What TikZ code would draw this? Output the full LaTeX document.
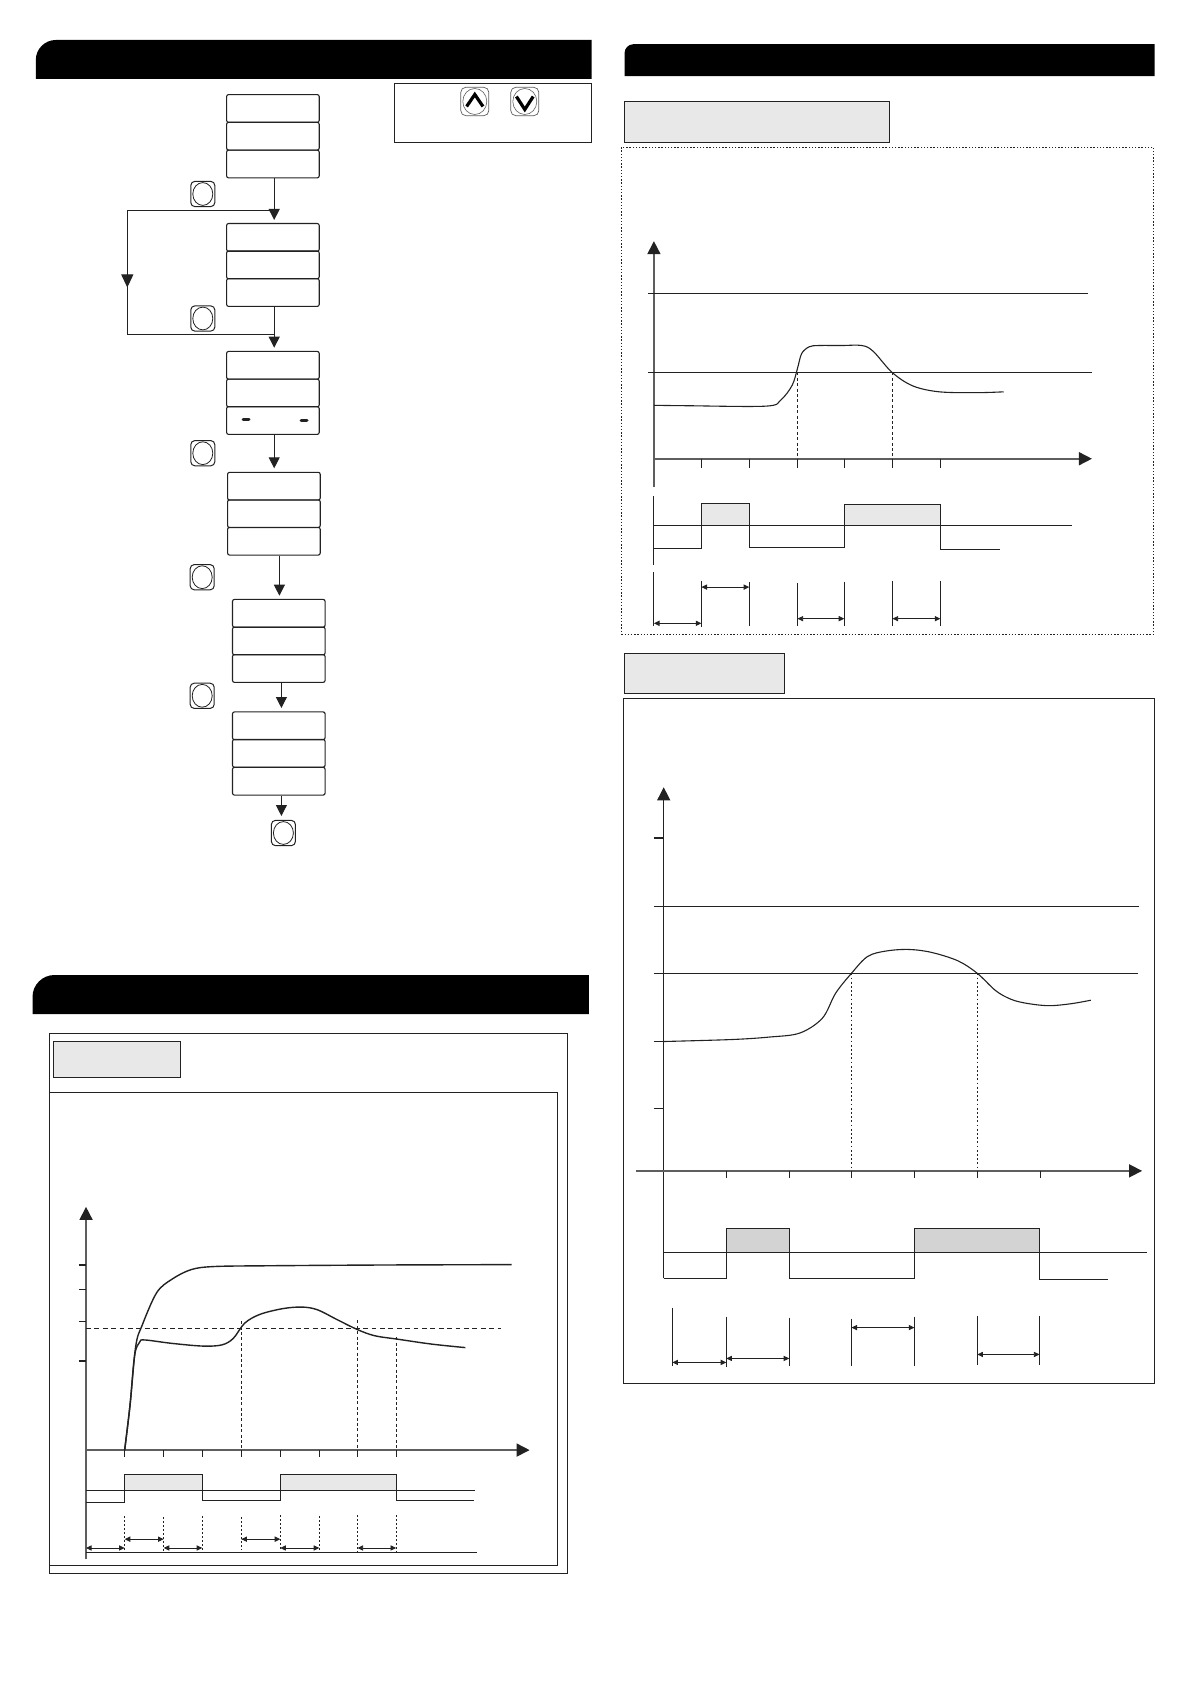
\documentclass[tikz,border=0pt]{standalone}
\usetikzlibrary{arrows.meta,shapes.geometric}
\definecolor{ink}{HTML}{222222}
\definecolor{panelgray}{HTML}{E8E8E8}
\definecolor{darkgray2}{HTML}{D3D3D3}
\definecolor{axisgray}{HTML}{5E5E5E}
\tikzset{
  thin line/.style={draw=ink,line width=.5pt},
  frame/.style={draw=ink,line width=.5pt},
  graylabel/.style={draw=ink,line width=.6pt,fill=panelgray},
  lcdbox/.style={draw=ink,line width=.55pt,rounded corners=1pt,minimum width=46.3pt,minimum height=13.9pt,inner sep=0pt},
  flow/.style={draw=ink,line width=.5pt,-{Triangle[length=5.5pt,width=5.5pt]}},
  btn/.style={draw=ink,line width=.5pt,rounded corners=2pt,minimum width=12pt,minimum height=12.6pt,inner sep=0pt},
  btneye/.style={draw=ink,line width=.4pt,ellipse,minimum width=10pt,minimum height=11.4pt,inner sep=0pt},
  updown/.style={draw=axisgray,line width=.35pt,rounded corners=2.5pt,minimum width=14pt,minimum height=14.2pt,inner sep=0pt},
  updowneye/.style={draw=axisgray,line width=.3pt,ellipse,minimum width=12pt,minimum height=13pt,inner sep=0pt},
  chevron/.style={draw=black,line width=1.6pt,line join=miter},
  axisline/.style={draw=axisgray,line width=.8pt},
  axistip/.style={-{Triangle[length=6.5pt,width=6.5pt,color=ink]}},
  tick/.style={draw=ink,line width=.55pt},
  curve/.style={draw=ink,line width=.55pt,smooth,tension=.55,line join=round},
  wave/.style={draw=ink,line width=.55pt},
  drop/.style={draw=ink,line width=.45pt,dash pattern=on 1.5pt off 1.2pt},
  droptall/.style={draw=ink,line width=.5pt},
  dim/.style={draw=ink,line width=.4pt,{Triangle[length=2.8pt,width=2.6pt]}-{Triangle[length=2.8pt,width=2.6pt]}},
}
\begin{document}
\begin{tikzpicture}[x=.5pt,y=-.5pt]
\useasboundingbox (0,0) rectangle (1191,1684);
\fill[white] (0,0) rectangle (1191,1684);

% ---------- header bars
\fill[black] (35.8,79) [rounded corners=10pt] -- (35.8,40) [sharp corners] -- (591.6,40) -- (591.6,79) -- cycle;
\fill[black] (32.5,1014) [rounded corners=11pt] -- (32.5,975) [sharp corners] -- (588.9,975) -- (588.9,1014) -- cycle;
\fill[black] (624.5,76.2) [rounded corners=4.5pt] -- (624.5,44.2) [sharp corners] -- (1154.6,44.2) -- (1154.6,76.2) -- cycle;

% ---------- key legend
\draw[frame] (394.2,83.3) rectangle (591.2,142.3);
\node[updown] (keyup) at (474.8,101.5) {};
\node[updowneye] (keyupeye) at (474.8,101.5) {};
\node[updown] (keydown) at (524.8,101.5) {};
\node[updowneye] (keydowneye) at (524.8,101.5) {};
\draw[chevron] (466.6,106.5) -- (474.8,94.5) -- (483,106.5);
\draw[chevron] (516.4,96.5) -- (524.8,109.5) -- (533.2,96.5);

% ---------- flow boxes
\node[lcdbox] (g1a) at (272.9,108.5) {};
\node[lcdbox] (g1b) at (272.9,136.2) {};
\node[lcdbox] (g1c) at (272.9,164) {};
\node[lcdbox] (g2a) at (272.9,237.4) {};
\node[lcdbox] (g2b) at (272.9,264.9) {};
\node[lcdbox] (g2c) at (272.9,292.5) {};
\node[lcdbox] (g3a) at (272.9,365.3) {};
\node[lcdbox] (g3b) at (272.9,393) {};
\node[lcdbox] (g3c) at (272.9,420.5) {};
\node[lcdbox] (g4a) at (273.9,486.2) {};
\node[lcdbox] (g4b) at (273.9,513.7) {};
\node[lcdbox] (g4c) at (273.9,541.2) {};
\node[lcdbox] (g5a) at (278.8,613.3) {};
\node[lcdbox] (g5b) at (278.8,641) {};
\node[lcdbox] (g5c) at (278.8,668.5) {};
\node[lcdbox] (g6a) at (278.8,725.8) {};
\node[lcdbox] (g6b) at (278.8,753.3) {};
\node[lcdbox] (g6c) at (278.8,781.2) {};
% dashes in g3c
\draw[ink,line width=1.5pt,line cap=round] (243,419.7) -- (249,419.7);
\draw[ink,line width=1.5pt,line cap=round] (301,421) -- (307,421);

% ---------- flow buttons
\foreach \n/\x/\y in {b1/202.8/194, b2/202.8/318.5, b3/202.8/453.2, b4/202.2/577.2, b5/202.2/695.8, b6/283.4/833}{
  \node[btn] (\n) at (\x,\y) {};
  \node[btneye] (\n eye) at (\x,\y) {};
}

% ---------- flow arrows
\coordinate (t1) at (274.2,220);
\coordinate (t2) at (274.2,347.7);
\coordinate (t3) at (274.2,468.3);
\coordinate (t4) at (279.4,595.7);
\coordinate (t5) at (281.4,708);
\coordinate (t6) at (281.4,816);
\draw[flow] (g1c.south -| t1) -- (t1);
\draw[flow] (g2c.south -| t2) -- (t2);
\draw[flow] (g3c.south -| t3) -- (t3);
\draw[flow] (g4c.south -| t4) -- (t4);
\draw[flow] (g5c.south -| t5) -- (t5);
\draw[flow] (g6c.south -| t6) -- (t6);
\coordinate (loopTR) at (274.2,210.3);
\coordinate (loopBR) at (274.2,335);
\coordinate (loopTL) at (127.3,210.3);
\coordinate (loopBL) at (127.3,335);
\coordinate (loopTip) at (127.3,287.5);
\draw[draw=ink,line width=.5pt] (loopTR) -- (loopTL) -- (loopBL) -- (loopBR);
\draw[flow,-{Triangle[length=6.5pt,width=6pt]}] (loopTL) -- (loopTip);

% ---------- PANEL A (lower left): crop coords
\begin{scope}[shift={(0,1000)},x=.1912pt,y=-.1912pt]
\draw[frame] (129,87) rectangle (1483,1501);
\draw[frame] (129,241) rectangle (1457,1480);
\draw[graylabel] (140,108) rectangle (471,203);
\fill[panelgray] (326,1240) rectangle (530,1282);
\fill[panelgray] (733,1240) rectangle (1036,1282);
\draw[axisline,axistip] (225,1462) -- (225,541);
\draw[axisline,axistip] (225,1177) -- (1385,1177);
\foreach \y in {693,756,840,944} \draw[tick] (206,\y) -- (225,\y);
\foreach \x in {326,428,530,631,733,835,935,1036} \draw[tick] (\x,1177) -- (\x,1196);
\draw[curve,line width=.7pt] plot coordinates {(326,1177) (340,1060) (355,905) (372,850) (410,765) (450,730) (500,705) (560,697) (700,695) (1000,693) (1338,692)};
\draw[curve,line width=.7pt] plot coordinates {(326,1177) (340,1060) (352,930) (365,895) (378,889) (450,898) (530,905) (580,902) (610,885) (640,845) (680,822) (740,807) (790,803) (830,810) (880,835) (935,862) (980,878) (1040,887) (1130,900) (1217,909)};
\draw[draw=ink,line width=.5pt,dash pattern=on 2.4pt off 1.8pt] (225,858) -- (1310,858);
\draw[drop] (631,840) -- (631,1177);
\draw[drop,line width=.8pt] (935,838) -- (935,1177);
\draw[drop] (1036,882) -- (1036,1177);
\draw[thin line] (225,1282) -- (1241,1282);
\draw[wave] (225,1313) -- (326,1313) -- (326,1240) -- (530,1240) -- (530,1310) -- (733,1310) -- (733,1240) -- (1036,1240) -- (1036,1310) -- (1240,1310);
\foreach \x/\a/\b in {326/1350/1440,428/1352/1440,529/1350/1438,631/1353/1438,733/1348/1440,835/1350/1440,935/1347/1442,1036/1347/1442}
  \draw[drop,dash pattern=on 1pt off 1pt] (\x,\a) -- (\x,\b);
\draw[thin line] (225,1444) -- (1248,1444);
\draw[dim] (225,1433) -- (326,1433);
\draw[dim] (326,1410) -- (428,1410);
\draw[dim] (428,1433) -- (529,1433);
\draw[dim] (631,1410) -- (733,1410);
\draw[dim] (733,1433) -- (835,1433);
\draw[dim] (935,1433) -- (1036,1433);
\end{scope}

% ---------- PANEL B (upper right)
\begin{scope}[shift={(600,0)},x=.18847pt,y=-.21044pt]
\draw[graylabel] (65,242) rectangle (768,339);
\draw[draw=ink,line width=.5pt,dash pattern=on .7pt off .9pt] (58,350) rectangle (1469,1507);
\fill[panelgray] (269,1196) rectangle (397,1248);
\fill[panelgray] (649,1198) rectangle (903,1248);
\draw[axisline,axistip] (143,1158) -- (143,573);
\draw[axisline,axistip] (143,1090) -- (1305,1090);
\draw[thin line] (127,697) -- (1295,697);
\draw[thin line] (127,885) -- (1305,885);
\foreach \x in {269,396,524,648,776,903} \draw[tick] (\x,1090) -- (\x,1112);
\draw[curve] plot coordinates {(143,963) (230,964) (440,965) (480,950) (510,915) (524,875) (535,840) (555,824) (580,821) (640,821) (695,821) (725,835) (775,885) (830,917) (900,931) (1000,933) (1071,931)};
\draw[drop] (524,885) -- (524,1090);
\draw[drop] (776,885) -- (776,1090);
\draw[thin line,line width=.6pt] (143,1248) -- (1252,1248);
\draw[droptall,line width=.45pt] (143,1178) -- (143,1343);
\draw[wave] (143,1303) -- (269,1303) -- (269,1196) -- (397,1196) -- (397,1301) -- (649,1301) -- (649,1198) -- (903,1198) -- (903,1305) -- (1061,1305);
\draw[droptall,line width=.45pt] (143,1360) -- (143,1487);
\foreach \x/\a/\b in {269/1380/1490,396/1383/1487,524/1385/1487,648/1382/1487,776/1380/1487,903/1380/1487}
  \draw[droptall] (\x,\a) -- (\x,\b);
\draw[dim] (143,1481) -- (269,1481);
\draw[dim] (269,1395) -- (396,1395);
\draw[dim] (524,1470) -- (648,1470);
\draw[dim] (776,1470) -- (903,1470);
\end{scope}

% ---------- PANEL C (lower right)
\begin{scope}[shift={(600,640)},x=.18847pt,y=-.24876pt]
\draw[graylabel] (65,27) rectangle (490,108);
\draw[frame] (62,118) rectangle (1471,1495);
\fill[darkgray2] (335,1183) rectangle (502,1231);
\fill[darkgray2] (834,1183) rectangle (1166,1231);
\draw[draw=ink,line width=.55pt,axistip] (169,1283) -- (169,296);
\draw[axisline,axistip] (96,1067) -- (1438,1067);
\foreach \y in {398,807,942} \draw[tick] (143,\y) -- (169,\y);
\draw[thin line] (143,536) -- (1430,536);
\draw[thin line] (143,670) -- (1427,670);
\foreach \x in {335,502,667,834,1001,1168} \draw[tick] (\x,1067) -- (\x,1081);
\draw[curve] plot coordinates {(169,807) (350,803) (450,798) (530,790) (590,760) (625,710) (667,670) (710,636) (760,625) (820,622) (880,628) (950,645) (1001,670) (1050,705) (1090,722) (1130,730) (1190,735) (1250,731) (1302,724)};
\draw[drop,dash pattern=on .9pt off 1.2pt,line width=.5pt] (667,670) -- (667,1067);
\draw[drop,dash pattern=on .9pt off 1.2pt,line width=.5pt] (1001,670) -- (1001,1067);
\draw[thin line] (169,1231) -- (1451,1231);
\draw[wave] (169,1283) -- (335,1283) -- (335,1183) -- (502,1183) -- (502,1283) -- (834,1283) -- (834,1183) -- (1166,1183) -- (1166,1286) -- (1348,1286);
\foreach \x/\a/\b in {192/1342/1460,335/1360/1462,502/1362/1460,667/1364/1460,834/1360/1460,1001/1358/1458,1166/1358/1458}
  \draw[droptall] (\x,\a) -- (\x,\b);
\draw[dim] (192,1452) -- (335,1452);
\draw[dim] (335,1444) -- (502,1444);
\draw[dim] (667,1382) -- (834,1382);
\draw[dim] (1001,1436) -- (1166,1436);
\end{scope}
\end{tikzpicture}
\end{document}
